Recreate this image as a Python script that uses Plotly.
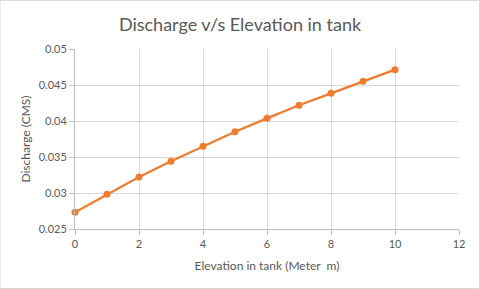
import plotly.graph_objects as go

elevation = [0, 1, 2, 3, 4, 5, 6, 7, 8, 9, 10]
discharge = [0.02732, 0.02982, 0.03222, 0.0344, 0.03648, 0.03852, 0.04037, 0.04218, 0.04384, 0.04551, 0.04713]
title_text = "Discharge v/s Elevation in tank"
x_title = "Elevation in tank (Meter  m)"
y_title = "Discharge (CMS)"

FONT = "Lato, Open Sans, sans-serif"
grey = "#595959"
grid = "#d9d9d9"

fig = go.Figure(go.Scatter(
    x=elevation, y=discharge, mode="lines+markers", cliponaxis=False,
    line=dict(color="#ed7d31", width=2.25),
    marker=dict(color="#ed7d31", size=7),
))

fig.update_layout(
    width=480, height=289,
    margin=dict(l=75, r=21, t=49, b=60),
    paper_bgcolor="white", plot_bgcolor="white",
    showlegend=False,
    title=dict(text=title_text, x=0.5, xanchor="center", y=0.915, yanchor="middle",
               font=dict(family=FONT, size=18, color=grey)),
    font=dict(family=FONT, color=grey, size=11),
    xaxis=dict(range=[0, 12], dtick=2, tick0=0, showgrid=True, gridcolor=grid,
               showline=True, linecolor="#bfbfbf", ticks="outside", ticklen=5,
               tickcolor="#bfbfbf", zeroline=False,
               title=dict(text=x_title, font=dict(size=12, color=grey), standoff=12),
               tickfont=dict(size=11, color=grey)),
    yaxis=dict(range=[0.025, 0.05], dtick=0.005, tick0=0.025, showgrid=True, gridcolor=grid,
               showline=True, linecolor="#bfbfbf", ticks="outside", ticklen=5,
               tickcolor="#bfbfbf", zeroline=False,
               title=dict(text=y_title, font=dict(size=12, color=grey), standoff=5),
               tickfont=dict(size=11, color=grey)),
    shapes=[dict(type="rect", xref="paper", yref="paper", x0=-75/384, x1=1+20.5/384,
                 y0=-59.5/180, y1=1+48.5/180, line=dict(color=grid, width=1))],
)

fig.write_html("out.html")
